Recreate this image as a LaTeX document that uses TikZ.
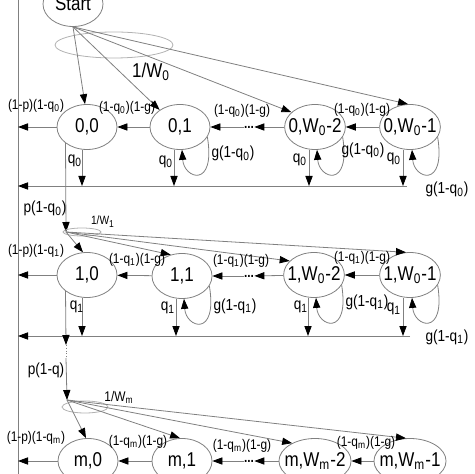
\documentclass[tikz,border=0pt]{standalone}
\usepackage{fontspec}
\setmainfont[FakeStretch=0.85]{Liberation Sans}
\usetikzlibrary{calc,arrows.meta,shapes.geometric}
\def\selfloop#1{\draw[ar] (#1.-20) .. controls ($(#1)+(36,62)$) and ($(#1)+(4,52)$) .. (#1.-85);}

\begin{document}
\begin{tikzpicture}[x=0.5pt,y=-0.5pt,
  st/.style={draw=gray,ellipse,minimum width=30pt,minimum height=22.5pt,inner sep=-2.5pt,font=\fontsize{10}{11}\selectfont},
  ar/.style={draw=gray,-{Triangle[length=5pt,width=3.6pt,color=black]}},
  lab/.style={font=\fontsize{7}{8}\selectfont,inner sep=0pt},
  ql/.style={font=\fontsize{8}{9}\selectfont,inner sep=0pt},
  sel/.style={draw=gray!60}]
			%%%%% START %%%%%
			\clip (0,0) rectangle (474,474);
			
			\coordinate (lt) at (18,0);
			\coordinate (lb) at (18,474);
			\draw[gray] (lt) -- (lb);
			
			\node[st] (st) at (73,4) {Start};
			
			%%%%% ROW 0 %%%%%
			\node[st] (n00) at (87,127) {0,0};
			\node[st] (n01) at (180,127) {0,1};
			\node[st] (n0a) at (315,127) {0,W\textsubscript{0}-2};
			\node[st] (n0b) at (410,127) {0,W\textsubscript{0}-1};
			\node[lab] (d0) at (249,127) {\textbf{...}};
			
			\draw[sel] (114,45) ellipse [x radius=59, y radius=13];
			\node[font=\fontsize{10}{11}\selectfont] (w0) at (151,72) {1/W\textsubscript{0}};
			\draw[ar] (st.south) -- (n00.95);
			\draw[ar] (st.south) -- (n01.140);
			\draw[ar] (st.south) -- (n0a.148);
			\draw[ar] (st.south) -- (n0b.95);
			
			\draw[ar] (n0b) -- (n0a);
			\draw[ar] (n0a) -- (d0);
			\draw[ar] (d0) -- (n01);
			\draw[ar] (n01) -- (n00);
			\draw[ar] (n00) -- (n00 -| lt);
			\node[lab] (l0a) at (36,106) {(1-p)(1-q\textsubscript{0})};
			\node[lab] (l0b) at (127,108) {(1-q\textsubscript{0})(1-g)};
			\node[lab] (l0c) at (242,111) {(1-q\textsubscript{0})(1-g)};
			\node[lab] (l0d) at (362,110) {(1-q\textsubscript{0})(1-g)};
			
			\coordinate (h0) at (407,186);
			\draw[ar] ([xshift=-2.5pt]n00.south) -- ([xshift=-2.5pt]n00.south |- h0);
			\draw[ar] ([xshift=-3pt]n01.south) -- ([xshift=-3pt]n01.south |- h0);
			\draw[ar] ([xshift=-3pt]n0a.south) -- ([xshift=-3pt]n0a.south |- h0);
			\draw[ar] ([xshift=-3.5pt]n0b.south) -- ([xshift=-3.5pt]n0b.south |- h0);
			\draw[ar] (h0) -- (h0 -| lt);
			\selfloop{n01}
			\selfloop{n0a}
			\selfloop{n0b}
			\node[ql] (q00) at (75,161) {q\textsubscript{0}};
			\node[ql] (q01) at (166,162) {q\textsubscript{0}};
			\node[ql] (q0a) at (300,160) {q\textsubscript{0}};
			\node[ql] (q0b) at (394,159) {q\textsubscript{0}};
			\node[ql] (g01) at (233,153) {g(1-q\textsubscript{0})};
			\node[ql] (g0a) at (363,150) {g(1-q\textsubscript{0})};
			\node[ql] (g0b) at (447,189) {g(1-q\textsubscript{0})};
			
			\coordinate (f1) at (66,232);
			\draw[ar] (n00.217) -- (f1);
			\node[ql] (p0) at (45,208) {p(1-q\textsubscript{0})};
			
			%%%%% ROW 1 %%%%%
			\node[st] (n10) at (87,275) {1,0};
			\node[st] (n11) at (182,276) {1,1};
			\node[st] (n1a) at (314,275) {1,W\textsubscript{0}-2};
			\node[st] (n1b) at (410,275) {1,W\textsubscript{0}-1};
			\node[lab] (d1) at (249,276) {\textbf{...}};
			
			\draw[sel] (82,232) ellipse [x radius=19, y radius=4];
			\node[font=\fontsize{6}{7}\selectfont] (w1) at (103,222) {1/W\textsubscript{1}};
			\draw[ar] (f1) -- (n10.100);
			\draw[ar] (f1) -- (n11.118);
			\draw[ar] (f1) -- (n1a.150);
			\draw[ar] (f1) -- (n1b.100);
			
			\draw[ar] (n1b) -- (n1a);
			\draw[ar] (n1a) -- (d1);
			\draw[ar] (d1) -- (n11);
			\draw[ar] (n11) -- (n10);
			\draw[ar] (n10) -- (n10 -| lt);
			\node[lab] (l1a) at (36,251) {(1-p)(1-q\textsubscript{1})};
			\node[lab] (l1b) at (137,260) {(1-q\textsubscript{1})(1-g)};
			\node[lab] (l1c) at (241,261) {(1-q\textsubscript{1})(1-g)};
			\node[lab] (l1d) at (362,258) {(1-q\textsubscript{1})(1-g)};
			
			\coordinate (h1) at (410,336);
			\draw[ar] ([xshift=-2.5pt]n10.south) -- ([xshift=-2.5pt]n10.south |- h1);
			\draw[ar] ([xshift=-3pt]n11.south) -- ([xshift=-3pt]n11.south |- h1);
			\draw[ar] ([xshift=-3pt]n1a.south) -- ([xshift=-3pt]n1a.south |- h1);
			\draw[ar] ([xshift=-3.5pt]n1b.south) -- ([xshift=-3.5pt]n1b.south |- h1);
			\draw[ar] (h1) -- (h1 -| lt);
			\selfloop{n11}
			\selfloop{n1a}
			\selfloop{n1b}
			\node[ql] (q10) at (77,307) {q\textsubscript{1}};
			\node[ql] (q11) at (168,308) {q\textsubscript{1}};
			\node[ql] (q1a) at (301,307) {q\textsubscript{1}};
			\node[ql] (q1b) at (394,309) {q\textsubscript{1}};
			\node[ql] (g11) at (235,306) {g(1-q\textsubscript{1})};
			\node[ql] (g1a) at (367,302) {g(1-q\textsubscript{1})};
			\node[ql] (g1b) at (447,337) {g(1-q\textsubscript{1})};
			
			\coordinate (k1) at (66,345);
			\coordinate (k2) at (66,358);
			\coordinate (fm) at (67,400);
			\draw[ar] (n10.217) -- (k1);
			\draw[gray,densely dotted] (k1) -- (k2);
			\draw[ar] (k2) -- (fm);
			\node[ql] (pm) at (46,370) {p(1-q)};
			
			%%%%% ROW m %%%%%
			\node[st] (nm0) at (88,461) {m,0};
			\node[st] (nm1) at (182,461) {m,1};
			\node[st] (nma) at (315,461) {m,W\textsubscript{m}-2};
			\node[st] (nmb) at (410,461) {m,W\textsubscript{m}-1};
			\node[lab] (dm) at (249,461) {\textbf{...}};
			
			\draw[sel] (85,407) ellipse [x radius=23, y radius=6];
			\node[font=\fontsize{7}{8}\selectfont] (wm) at (119,397) {1/W\textsubscript{m}};
			\draw[ar] (fm) -- (nm0.95);
			\draw[ar] (fm) -- (nm1.95);
			\draw[ar] (fm) -- (nma.142);
			\draw[ar] (fm) -- (nmb.100);
			
			\draw[ar] (nmb) -- (nma);
			\draw[ar] (nma) -- (dm);
			\draw[ar] (dm) -- (nm1);
			\draw[ar] (nm1) -- (nm0);
			\draw[ar] (nm0) -- (nm0 -| lt);
			\node[lab] (lma) at (36,438) {(1-p)(1-q\textsubscript{m})};
			\node[lab] (lmb) at (138,442) {(1-q\textsubscript{m})(1-g)};
			\node[lab] (lmc) at (242,446) {(1-q\textsubscript{m})(1-g)};
			\node[lab] (lmd) at (366,443) {(1-q\textsubscript{m})(1-g)};
			
			%%%%% END %%%%%
\end{tikzpicture}
\end{document}
